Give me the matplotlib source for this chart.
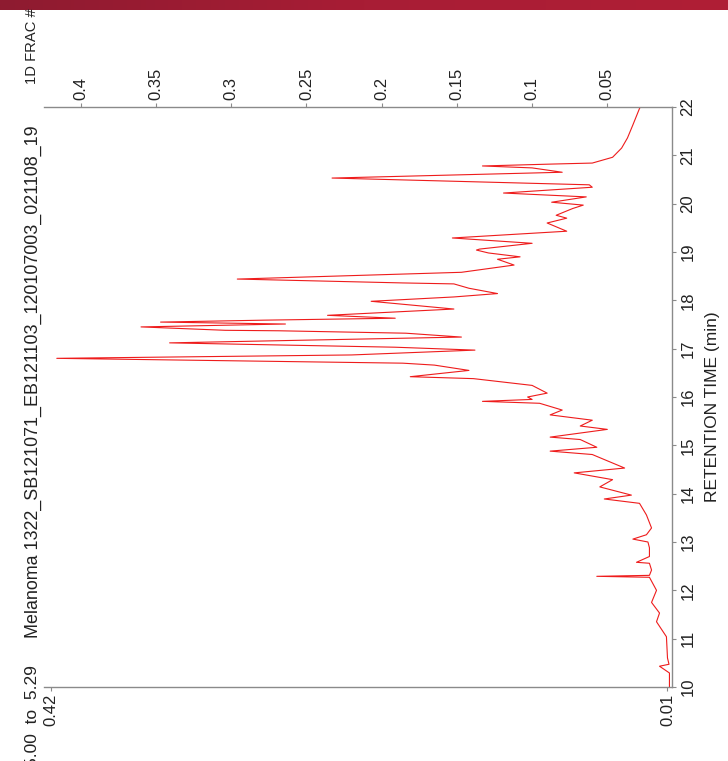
import matplotlib
matplotlib.use("Agg")
import matplotlib.pyplot as plt
import numpy as np
from matplotlib.colors import LinearSegmentedColormap

plt.rcParams['font.family'] = ['Liberation Sans', 'DejaVu Sans']

# Retention time (min) and 1D FRAC intensity
retention_time = [10.0, 10.29, 10.43, 10.47, 10.6, 11.04, 11.35, 11.53, 11.75, 12.0,
                  12.27, 12.29, 12.31, 12.42, 12.56, 12.58, 12.7, 12.88, 13.0, 13.06,
                  13.15, 13.29, 13.56, 13.8, 13.89, 13.97, 14.14, 14.29, 14.43, 14.53,
                  14.81, 14.88, 14.96, 15.12, 15.17, 15.33, 15.40, 15.52, 15.63, 15.73,
                  15.87, 15.91, 15.95, 16.0, 16.08, 16.24, 16.38, 16.42, 16.55, 16.66,
                  16.70, 16.8, 16.87, 16.97, 17.03, 17.12, 17.24, 17.32, 17.37, 17.38,
                  17.45, 17.51, 17.55, 17.59, 17.63, 17.69, 17.82, 17.98, 18.07, 18.14,
                  18.25, 18.34, 18.36, 18.44, 18.58, 18.73, 18.85, 18.9, 18.98, 19.04,
                  19.06, 19.18, 19.29, 19.43, 19.6, 19.70, 19.76, 19.9, 19.97, 20.03,
                  20.14, 20.22, 20.34, 20.39, 20.53, 20.65, 20.74, 20.78, 20.82, 20.84,
                  20.96, 21.15, 21.36, 21.63, 21.97, 22.0]
intensity = [0.0087, 0.0087, 0.0153, 0.009, 0.010, 0.0107, 0.0173, 0.0153, 0.0206, 0.0173,
             0.022, 0.057, 0.022, 0.0206, 0.022, 0.0306, 0.022, 0.022, 0.023, 0.033,
             0.024, 0.0206, 0.024, 0.0286, 0.052, 0.034, 0.055, 0.0465, 0.072, 0.0385,
             0.06, 0.088, 0.057, 0.068, 0.088, 0.05, 0.068, 0.06, 0.088, 0.08,
             0.095, 0.133, 0.10, 0.103, 0.09, 0.1, 0.139, 0.181, 0.142, 0.165,
             0.186, 0.416, 0.22, 0.138, 0.191, 0.341, 0.147, 0.184, 0.268, 0.304,
             0.36, 0.264, 0.347, 0.278, 0.191, 0.236, 0.152, 0.207, 0.152, 0.123,
             0.142, 0.152, 0.186, 0.296, 0.147, 0.112, 0.123, 0.108, 0.129, 0.137,
             0.135, 0.1, 0.153, 0.077, 0.09, 0.077, 0.084, 0.073, 0.066, 0.087,
             0.064, 0.119, 0.06, 0.062, 0.233, 0.08, 0.1, 0.133, 0.086, 0.06,
             0.0465, 0.0405, 0.0366, 0.033, 0.0286, 0.028]

time_ticks = list(range(10, 23))
top_ticks = [0.05, 0.1, 0.15, 0.2, 0.25, 0.3, 0.35, 0.4]
top_labels = ['0.05', '0.1', '0.15', '0.2', '0.25', '0.3', '0.35', '0.4']
bottom_ticks = [0.42, 0.01]
bottom_labels = ['0.42', '0.01']

title_text = "Melanoma 1322_SB121071_EB121103_120107003_021108_19"
range_text = "5.00  to  5.29"
frac_text = "1D FRAC #"
time_label = "RETENTION TIME (min)"

W, H = 728, 761
fig = plt.figure(figsize=(W / 100, H / 100), dpi=100)
fig.patch.set_facecolor('white')

def fx(px):
    return px / W

def fy(py):
    return 1 - py / H

# header bar
hb = fig.add_axes([0, fy(10), 1, 10 / H])
grad = np.linspace(0, 1, 256).reshape(1, -1)
cm = LinearSegmentedColormap.from_list('bar', ['#8e1b30', '#a81d35', '#b01f36'])
hb.imshow(grad, aspect='auto', cmap=cm, extent=[0, 1, 0, 1])
hb.axis('off')

left, right, top, bottom = 44, 672, 107, 687
ax = fig.add_axes([fx(left), fy(bottom), fx(right - left), (bottom - top) / H])
ax.plot(intensity, retention_time, color='#ee1c1c', lw=0.8)
ax.set_xlim(0.4245, 0.007)
ax.set_ylim(10, 22)

gray = '#8a8a8a'
for s in ['top', 'bottom', 'right']:
    ax.spines[s].set_color(gray)
    ax.spines[s].set_linewidth(1.0)
ax.spines['left'].set_visible(False)

ax.yaxis.tick_right()
ax.set_yticks(time_ticks)
ax.set_yticklabels([str(t) for t in time_ticks], rotation=90, va='center')
ax.tick_params(axis='y', which='both', left=False, right=True, length=3,
               color=gray, labelsize=12, pad=3, labelcolor='#222222')

ax.set_xticks(bottom_ticks)
ax.set_xticklabels(bottom_labels, rotation=90)
ax.tick_params(axis='x', length=3, color=gray, labelsize=12, pad=2,
               labelcolor='#222222')

sec = ax.secondary_xaxis('top')
sec.set_xticks(top_ticks)
sec.set_xticklabels(top_labels, rotation=90)
sec.tick_params(length=3, color=gray, labelsize=12, pad=2, labelcolor='#222222')
sec.spines['top'].set_visible(False)

fig.text(fx(712), fy(407), time_label, rotation=90, ha='center', va='center',
         fontsize=12.5, color='#222222')
fig.text(fx(33), fy(638), title_text, rotation=90, rotation_mode='anchor',
         ha='left', va='center', fontsize=12.9, color='#222222')
fig.text(fx(33), fy(665), range_text, rotation=90, rotation_mode='anchor',
         ha='right', va='center', fontsize=12.5, color='#222222')
fig.text(fx(32), fy(84), frac_text, rotation=90, rotation_mode='anchor',
         ha='left', va='center', fontsize=10.6, color='#222222')

fig.savefig('out.png', dpi=100)
